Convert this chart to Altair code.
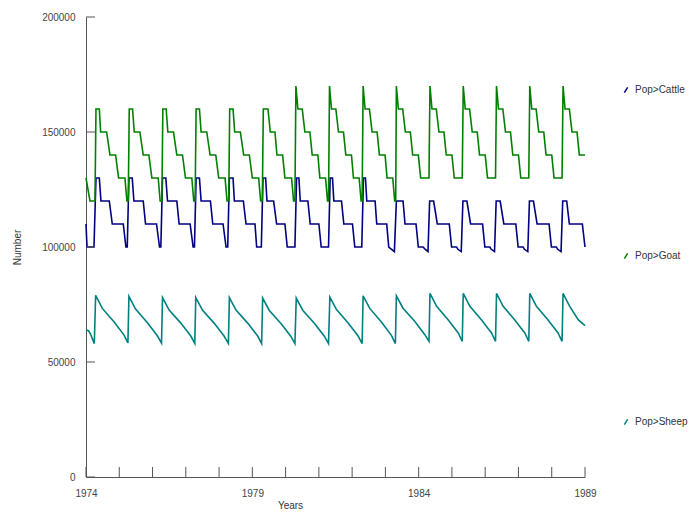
import altair as alt
import pandas as pd

SERIES = ["Pop>Cattle", "Pop>Goat", "Pop>Sheep"]
COLORS = ["#000080", "#008000", "#008080"]

CATTLE = [
    (1974.00, 110000), (1974.03, 100000), (1974.24, 100000), (1974.30, 130000), (1974.40, 130000),
    (1974.45, 120000), (1974.70, 120000), (1974.79, 110000), (1975.12, 110000), (1975.20, 100000),
    (1975.24, 100000), (1975.29, 130000), (1975.39, 130000), (1975.44, 120000), (1975.72, 120000),
    (1975.79, 110000), (1976.12, 110000), (1976.21, 100000),
    (1976.25, 100000), (1976.30, 130000), (1976.40, 130000), (1976.45, 120000), (1976.73, 120000),
    (1976.80, 110000), (1977.13, 110000), (1977.22, 100000),
    (1977.26, 100000), (1977.31, 130000), (1977.41, 130000), (1977.46, 120000), (1977.74, 120000),
    (1977.81, 110000), (1978.12, 110000), (1978.21, 100000),
    (1978.26, 100000), (1978.31, 130000), (1978.42, 130000), (1978.46, 120000), (1978.73, 120000),
    (1978.81, 110000), (1979.08, 110000), (1979.13, 100000),
    (1979.27, 100000), (1979.32, 130000), (1979.40, 130000), (1979.44, 120000), (1979.64, 120000),
    (1979.73, 110000), (1979.98, 110000), (1980.05, 100000),
    (1980.28, 100000), (1980.33, 130000), (1980.40, 130000), (1980.44, 120000), (1980.67, 120000),
    (1980.74, 110000), (1981.00, 110000), (1981.07, 100000),
    (1981.29, 100000), (1981.34, 130000), (1981.41, 130000), (1981.45, 120000), (1981.68, 120000),
    (1981.75, 110000), (1982.01, 110000), (1982.08, 100000),
    (1982.29, 100000), (1982.34, 130000), (1982.40, 130000), (1982.44, 120000), (1982.69, 120000),
    (1982.74, 110000), (1983.04, 110000), (1983.10, 100000), (1983.27, 98000),
    (1983.33, 120000), (1983.53, 120000), (1983.59, 110000), (1983.92, 110000), (1983.99, 100000),
    (1984.13, 100000), (1984.20, 99000), (1984.28, 98000),
    (1984.33, 120000), (1984.45, 120000), (1984.56, 110000), (1984.92, 110000), (1984.99, 100000),
    (1985.14, 100000), (1985.18, 99000), (1985.28, 98000),
    (1985.33, 120000), (1985.45, 120000), (1985.56, 110000), (1985.92, 110000), (1985.99, 100000),
    (1986.14, 100000), (1986.18, 99000), (1986.28, 98000),
    (1986.33, 120000), (1986.45, 120000), (1986.56, 110000), (1986.92, 110000), (1986.99, 100000),
    (1987.14, 100000), (1987.18, 99000), (1987.28, 98000),
    (1987.33, 120000), (1987.45, 120000), (1987.56, 110000), (1987.92, 110000), (1987.99, 100000),
    (1988.14, 100000), (1988.18, 99000), (1988.28, 98000),
    (1988.33, 120000), (1988.45, 120000), (1988.53, 110000), (1988.92, 110000), (1989.00, 100000),
]

GOAT = [
    (1974.00, 130000), (1974.12, 120000),
    (1974.27, 120000), (1974.30, 160000), (1974.40, 160000), (1974.44, 150000), (1974.62, 150000),
    (1974.72, 140000), (1974.89, 140000), (1974.98, 130000), (1975.17, 130000), (1975.23, 120000),
    (1975.27, 120000), (1975.30, 160000), (1975.40, 160000), (1975.45, 150000), (1975.62, 150000),
    (1975.72, 140000), (1975.89, 140000), (1975.98, 130000), (1976.17, 130000), (1976.23, 120000),
    (1976.28, 120000), (1976.31, 160000), (1976.41, 160000), (1976.46, 150000), (1976.63, 150000),
    (1976.73, 140000), (1976.90, 140000), (1976.99, 130000), (1977.18, 130000), (1977.24, 120000),
    (1977.28, 120000), (1977.31, 160000), (1977.41, 160000), (1977.46, 150000), (1977.63, 150000),
    (1977.73, 140000), (1977.90, 140000), (1977.99, 130000), (1978.18, 130000), (1978.24, 120000),
    (1978.29, 120000), (1978.32, 160000), (1978.42, 160000), (1978.47, 150000), (1978.64, 150000),
    (1978.74, 140000), (1978.91, 140000), (1979.00, 130000), (1979.19, 130000), (1979.25, 120000),
    (1979.30, 120000), (1979.33, 160000), (1979.47, 160000), (1979.54, 150000), (1979.68, 150000),
    (1979.74, 140000), (1979.91, 140000), (1979.98, 130000), (1980.18, 130000), (1980.24, 120000),
    (1980.28, 120000), (1980.31, 170000), (1980.37, 160000), (1980.50, 160000), (1980.58, 150000),
    (1980.73, 150000), (1980.80, 140000), (1980.97, 140000), (1981.03, 130000), (1981.20, 130000),
    (1981.26, 120000),
    (1981.29, 120000), (1981.32, 170000), (1981.38, 160000), (1981.51, 160000), (1981.59, 150000),
    (1981.74, 150000), (1981.81, 140000), (1981.98, 140000), (1982.04, 130000), (1982.21, 130000),
    (1982.27, 120000),
    (1982.30, 120000), (1982.33, 170000), (1982.39, 160000), (1982.52, 160000), (1982.60, 150000),
    (1982.75, 150000), (1982.82, 140000), (1982.99, 140000), (1983.05, 130000), (1983.22, 130000),
    (1983.28, 120000),
    (1983.31, 120000), (1983.33, 170000), (1983.39, 160000), (1983.52, 160000), (1983.60, 150000),
    (1983.75, 150000), (1983.82, 140000), (1983.99, 140000), (1984.06, 130000),
    (1984.31, 130000), (1984.34, 170000), (1984.40, 160000), (1984.53, 160000), (1984.61, 150000),
    (1984.76, 150000), (1984.83, 140000), (1985.00, 140000), (1985.07, 130000),
    (1985.31, 130000), (1985.34, 170000), (1985.40, 160000), (1985.53, 160000), (1985.61, 150000),
    (1985.76, 150000), (1985.83, 140000), (1986.00, 140000), (1986.07, 130000),
    (1986.31, 130000), (1986.34, 170000), (1986.40, 160000), (1986.53, 160000), (1986.61, 150000),
    (1986.76, 150000), (1986.83, 140000), (1987.00, 140000), (1987.07, 130000),
    (1987.31, 130000), (1987.34, 170000), (1987.40, 160000), (1987.53, 160000), (1987.61, 150000),
    (1987.76, 150000), (1987.83, 140000), (1988.00, 140000), (1988.07, 130000),
    (1988.31, 130000), (1988.34, 170000), (1988.40, 160000), (1988.53, 160000), (1988.61, 150000),
    (1988.76, 150000), (1988.83, 140000), (1989.00, 140000),
]

SHEEP = [
    (1974.00, 64000), (1974.08, 63500), (1974.14, 62000), (1974.25, 58000),
    (1974.29, 79000), (1974.49, 73300), (1974.84, 67500), (1975.14, 61800), (1975.26, 58300),
    (1975.29, 78500), (1975.49, 73000), (1975.84, 67200), (1976.14, 61500), (1976.27, 58200),
    (1976.30, 78000), (1976.50, 72600), (1976.85, 66900), (1977.15, 61300), (1977.27, 58100),
    (1977.30, 78000), (1977.50, 72600), (1977.85, 66900), (1978.15, 61300), (1978.28, 58100),
    (1978.31, 78000), (1978.51, 72600), (1978.86, 66900), (1979.16, 61300), (1979.28, 58000),
    (1979.31, 77800), (1979.51, 72400), (1979.86, 66700), (1980.16, 61100), (1980.28, 58000),
    (1980.32, 77800), (1980.52, 72400), (1980.87, 66700), (1981.17, 61100), (1981.29, 58000),
    (1981.33, 78200), (1981.53, 72800), (1981.88, 67000), (1982.18, 61300), (1982.30, 58000),
    (1982.33, 78800), (1982.53, 73300), (1982.88, 67400), (1983.18, 61600), (1983.30, 58000),
    (1983.33, 78800), (1983.53, 73400), (1983.88, 67700), (1984.18, 62000), (1984.31, 59000),
    (1984.34, 79800), (1984.54, 74200), (1984.89, 68300), (1985.19, 62600), (1985.31, 59000),
    (1985.34, 79800), (1985.54, 74200), (1985.89, 68300), (1986.19, 62600), (1986.31, 59000),
    (1986.34, 79800), (1986.54, 74200), (1986.89, 68300), (1987.19, 62600), (1987.31, 59000),
    (1987.34, 79800), (1987.54, 74200), (1987.89, 68300), (1988.19, 62600), (1988.31, 59000),
    (1988.34, 79800), (1988.54, 74200), (1988.80, 68300), (1989.00, 65800),
]

X_TICKS = [1974, 1975, 1976, 1977, 1978, 1979, 1980, 1981, 1982, 1983, 1984, 1985, 1986, 1987, 1988, 1989]
X_LABELS = [1974, 1979, 1984, 1989]
Y_TICKS = [0, 50000, 100000, 150000, 200000]

rows = []
for name, pts in zip(SERIES, [CATTLE, GOAT, SHEEP]):
    for i, (t, v) in enumerate(pts):
        rows.append({"year": t, "value": v, "series": name, "order": i})
df = pd.DataFrame(rows)

W, H = 499, 460
AX = "#555555"
FONT = "Liberation Sans"

xscale = alt.Scale(domain=[1974, 1989], nice=False, zero=False)
yscale = alt.Scale(domain=[0, 200000], nice=False)

lines = alt.Chart(df).mark_line(strokeWidth=1.6).encode(
    x=alt.X("year:Q", scale=xscale,
            axis=alt.Axis(values=X_LABELS, format="d", title="Years", tickSize=0,
                          labelPadding=11, labelFlush=False, titleX=204, titleY=23,
                          titleFontWeight="normal")),
    y=alt.Y("value:Q", scale=yscale,
            axis=alt.Axis(values=Y_TICKS, format="d", title="Number", tickSize=0,
                          labelPadding=11, labelFlush=False, titlePadding=19,
                          titleFontWeight="normal")),
    color=alt.Color("series:N", scale=alt.Scale(domain=SERIES, range=COLORS),
                    legend=alt.Legend(orient="none", legendX=535, legendY=68, title=None,
                                      symbolType="M-0.6,1L0.6,-1", symbolSize=30,
                                      symbolStrokeWidth=1.5, rowPadding=154,
                                      labelFontSize=10, labelColor="#333333",
                                      labelFont=FONT, labelOffset=4, padding=0)),
    order="order:Q",
)

xt = pd.DataFrame({"year": X_TICKS})
xticks = alt.Chart(xt).mark_rule(color=AX, strokeWidth=1).encode(
    x=alt.X("year:Q", scale=xscale), y=alt.value(H), y2=alt.value(H - 10)
)
yt = pd.DataFrame({"value": Y_TICKS})
yticks = alt.Chart(yt).mark_rule(color=AX, strokeWidth=1).encode(
    y=alt.Y("value:Q", scale=yscale), x=alt.value(0), x2=alt.value(9)
)

chart = alt.layer(lines, xticks, yticks).properties(
    width=W, height=H,
    autosize=alt.AutoSizeParams(type="none"),
    padding={"left": 78, "top": 9, "right": 104, "bottom": 32},
).configure_view(stroke=None).configure_axis(
    grid=False, domainColor=AX, domainWidth=1, labelColor="#444444", titleColor="#333333",
    labelFont=FONT, titleFont=FONT, labelFontSize=10, titleFontSize=10,
)

chart.save("out.html", embed_options={"renderer": "svg", "actions": False})
